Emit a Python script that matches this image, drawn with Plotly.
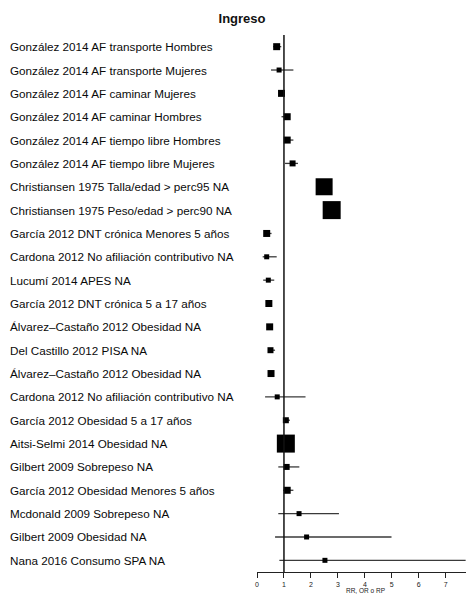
import plotly.graph_objects as go

labels = [
    "González 2014 AF transporte Hombres",
    "González 2014 AF transporte Mujeres",
    "González 2014 AF caminar Mujeres",
    "González 2014 AF caminar Hombres",
    "González 2014 AF tiempo libre Hombres",
    "González 2014 AF tiempo libre Mujeres",
    "Christiansen 1975 Talla/edad > perc95 NA",
    "Christiansen 1975 Peso/edad > perc90 NA",
    "García 2012 DNT crónica Menores 5 años",
    "Cardona 2012 No afiliación contributivo NA",
    "Lucumí 2014 APES NA",
    "García 2012 DNT crónica 5 a 17 años",
    "Álvarez–Castaño 2012 Obesidad NA",
    "Del Castillo 2012 PISA NA",
    "Álvarez–Castaño 2012 Obesidad NA",
    "Cardona 2012 No afiliación contributivo NA",
    "García 2012 Obesidad 5 a 17 años",
    "Aitsi-Selmi 2014 Obesidad NA",
    "Gilbert 2009 Sobrepeso NA",
    "García 2012 Obesidad Menores 5 años",
    "Mcdonald 2009 Sobrepeso NA",
    "Gilbert 2009 Obesidad NA",
    "Nana 2016 Consumo SPA NA",
]
estimate = [0.73, 0.82, 0.91, 1.12, 1.12, 1.32, 2.49, 2.77, 0.36, 0.36, 0.42, 0.44,
            0.47, 0.50, 0.52, 0.75, 1.07, 1.07, 1.10, 1.12, 1.56, 1.84, 2.52]
ci_low = [0.60, 0.52, 0.85, 0.91, 1.04, 1.04, 2.40, 2.68, 0.33, 0.21, 0.23, 0.41,
          0.44, 0.47, 0.49, 0.30, 0.97, 1.00, 0.79, 0.97, 0.79, 0.67, 0.83]
ci_high = [0.90, 1.35, 0.98, 1.22, 1.35, 1.52, 2.58, 2.86, 0.54, 0.73, 0.64, 0.48,
           0.52, 0.67, 0.56, 1.80, 1.22, 1.14, 1.57, 1.35, 3.04, 4.99, 7.74]
weights = [7, 5, 7, 7, 7, 6, 17, 18, 7, 5, 5, 7, 7, 6, 7, 5, 6, 18, 6, 7, 5, 5, 5]
x_ticks = [0, 1, 2, 3, 4, 5, 6, 7, 8]

FONT = "Liberation Sans"
rows = list(range(len(labels)))
fig = go.Figure()
# confidence intervals (drawn first, under the squares)
fig.add_trace(go.Scatter(
    x=estimate, y=rows, mode="markers",
    marker=dict(size=1, color="rgba(0,0,0,0)"),
    error_x=dict(type="data", symmetric=False,
                 array=[h - e for h, e in zip(ci_high, estimate)],
                 arrayminus=[e - l for e, l in zip(estimate, ci_low)],
                 color="#3a3a3a", thickness=1.3, width=0),
    showlegend=False, hoverinfo="skip"))
# point estimates
fig.add_trace(go.Scatter(
    x=estimate, y=rows, mode="markers",
    marker=dict(symbol="square", size=weights, color="#000000", opacity=1,
                line=dict(width=0)),
    showlegend=False, hoverinfo="skip"))

fig.add_shape(type="line", xref="x", yref="paper", x0=1, x1=1, y0=0, y1=1,
              line=dict(color="#111111", width=1.5))

PLOT_W = 217
for i, lab in enumerate(labels):
    fig.add_annotation(text=lab, xref="paper", x=-249/PLOT_W, xanchor="left",
                       yref="y", y=i, yanchor="middle", showarrow=False,
                       font=dict(family=FONT, size=11.7, color="#0a0a0a"))

fig.update_layout(
    width=466, height=592,
    margin=dict(l=249, r=0, t=27, b=28),
    paper_bgcolor="white", plot_bgcolor="white",
    title=dict(text="<b>Ingreso</b>", x=234/466, xanchor="center", y=1-10/592, yanchor="middle",
               font=dict(family=FONT, size=13, color="#111111")),
    xaxis=dict(range=[0, 8.05], tickvals=x_ticks, ticks="outside", ticklen=5, tickwidth=1,
               tickcolor="#222222", showline=True, linecolor="#222222", linewidth=1.2,
               showgrid=False, zeroline=False, ticklabeloverflow="allow",
               tickfont=dict(family=FONT, size=7, color="#222222"),
               title=dict(text="RR, OR o RP", standoff=1,
                          font=dict(family=FONT, size=6.5, color="#222222"))),
    yaxis=dict(range=[22.5, -0.5], showticklabels=False, showgrid=False, zeroline=False,
               showline=False, ticks=""),
)
fig.write_html("out.html")
